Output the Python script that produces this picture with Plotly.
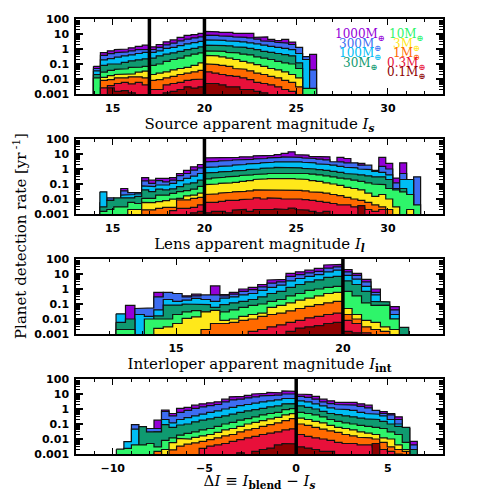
import plotly.graph_objects as go

# ---------------- data ----------------
mass_labels = ["1000M", "300M", "100M", "30M", "10M", "3M", "1M", "0.3M", "0.1M"]
mass_colors = ["#9400d8", "#3d6df2", "#00bdf5", "#0f9a70", "#2ef56a",
               "#ffe81a", "#ff6a00", "#e8103a", "#8e0000"]

# Panel 1: source apparent magnitude I_s (bins start / width)
src_bin_start, src_bin_width = 13.95, 0.38
src_m1000 = [0.07, 0.58, 0.75, 0.9, 1.0, 1.2, 1.5, 1.8, 1.4, 2.0, 3.0, 4.0, 6.0, 8.0, 9.0, 11, 15, 14, 13, 13, 11, 11, 11, 6.0, 6.5, 4.4, 3.6, 4.4, 2.9, 0, 0, 0.44]
src_m300 = [0.05, 0.38, 0.49, 0.58, 0.65, 0.75, 0.9, 1.0, 0.95, 1.3, 1.9, 2.5, 3.5, 4.5, 5.5, 6.5, 8.5, 8.0, 7.5, 7.0, 6.5, 6.0, 5.5, 4.5, 3.5, 3.2, 2.8, 2.5, 2.0, 1.3, 0.31, 0.04]
src_m100 = [0.035, 0.19, 0.23, 0.29, 0.35, 0.4, 0.5, 0.6, 0.6, 0.75, 1.1, 1.3, 1.7, 2.2, 2.7, 3.2, 4.0, 4.0, 3.8, 3.5, 3.2, 3.0, 2.6, 2.2, 1.8, 1.5, 1.3, 1.1, 0.9, 0.5, 0.2, 0]
src_m30 = [0.02, 0.08, 0.1, 0.1, 0.13, 0.16, 0.19, 0.22, 0.25, 0.35, 0.45, 0.55, 0.7, 0.9, 1.1, 1.4, 1.8, 1.8, 1.7, 1.6, 1.4, 1.3, 1.1, 0.9, 0.7, 0.6, 0.5, 0.42, 0.35, 0.12, 0, 0]
src_m10 = [0.012, 0.029, 0.038, 0.044, 0.048, 0.06, 0.062, 0.07, 0.08, 0.1, 0.15, 0.2, 0.25, 0.35, 0.45, 0.55, 0.75, 0.75, 0.7, 0.6, 0.55, 0.45, 0.4, 0.3, 0.25, 0.2, 0.15, 0.12, 0.1, 0.05, 0.0024, 0.0024]
src_m3 = [0, 0.013, 0.017, 0.02, 0.022, 0.022, 0.029, 0.034, 0.02, 0.025, 0.03, 0.04, 0.05, 0.06, 0.08, 0.12, 0.38, 0.35, 0.3, 0.25, 0.2, 0.15, 0.12, 0.09, 0.07, 0.05, 0.04, 0.03, 0.02, 0.012, 0, 0]
src_m1 = [0, 0.008, 0.009, 0.012, 0.012, 0.014, 0.014, 0.012, 0.008, 0.009, 0.012, 0.015, 0.02, 0.025, 0.03, 0.038, 0.1, 0.09, 0.08, 0.07, 0.05, 0.045, 0.035, 0.025, 0.02, 0.015, 0.012, 0.008, 0.006, 0.003, 0, 0]
src_m03 = [0, 0.0026, 0.0036, 0.005, 0.006, 0.0047, 0.006, 0.004, 0.002, 0.002, 0.004, 0.005, 0.006, 0.008, 0.009, 0.01, 0.03, 0.025, 0.02, 0.017, 0.015, 0.012, 0.009, 0.006, 0.005, 0.004, 0.003, 0.002, 0.0015, 0, 0, 0]
src_m01 = [0, 0, 0.0026, 0.0015, 0.0017, 0.0012, 0, 0, 0, 0, 0.0012, 0.0015, 0.002, 0.003, 0.0025, 0.003, 0.005, 0.005, 0.004, 0.003, 0.003, 0.002, 0.002, 0.0015, 0.0012, 0, 0, 0, 0, 0, 0, 0]

# Panel 2: lens apparent magnitude I_l
lens_bin_start, lens_bin_width = 14.3, 0.38
lens_m1000 = [0, 0, 0, 0.05, 0, 0, 0.27, 0.18, 0.24, 0.24, 0.27, 0.5, 0.8, 1.4, 2.0, 5.5, 5.5, 5.5, 6.0, 6.0, 6.5, 6.5, 7.5, 7.5, 8.0, 9.0, 11, 14, 9.0, 8.5, 7.0, 6.5, 6.5, 0, 6.0, 5.0, 0, 2.4, 0, 0, 6.0, 2.4, 0.25, 2.6, 0, 0]
lens_m300 = [0.006, 0.012, 0, 0.035, 0.027, 0.028, 0.16, 0.11, 0.17, 0.14, 0.18, 0.36, 0.5, 0.85, 1.2, 3.0, 3.2, 3.5, 3.7, 4.0, 4.0, 4.4, 4.7, 5.0, 5.5, 6.0, 6.5, 6.5, 6.0, 5.5, 5.0, 4.5, 4.0, 3.1, 3.0, 2.6, 2.6, 1.8, 1.8, 0.8, 1.5, 1.0, 0.12, 0.5, 0, 0.3]
lens_m100 = [0.03, 0.008, 0, 0.018, 0.02, 0.022, 0.074, 0.067, 0.086, 0.086, 0.11, 0.17, 0.24, 0.34, 0.5, 1.3, 1.4, 1.5, 1.6, 1.8, 2.0, 2.2, 2.4, 2.6, 2.8, 3.0, 3.2, 3.2, 3.0, 2.8, 2.6, 2.2, 2.0, 1.8, 1.5, 1.3, 1.2, 1.0, 0.9, 0.7, 0.6, 0.4, 0.05, 0.2, 0.2, 0]
lens_m30 = [0.003, 0.008, 0.012, 0.011, 0.012, 0.015, 0.04, 0.031, 0.045, 0.04, 0.047, 0.067, 0.1, 0.12, 0.18, 0.55, 0.6, 0.65, 0.7, 0.75, 0.8, 0.9, 1.0, 1.1, 1.2, 1.3, 1.3, 1.3, 1.2, 1.1, 1.0, 0.9, 0.8, 0.7, 0.6, 0.5, 0.45, 0.4, 0.35, 0.3, 0.3, 0.2, 0.03, 0.05, 0, 0]
lens_m10 = [0.0015, 0.002, 0.003, 0.003, 0.006, 0.005, 0.011, 0.011, 0.018, 0.018, 0.024, 0.031, 0.036, 0.045, 0.07, 0.22, 0.25, 0.28, 0.3, 0.33, 0.37, 0.4, 0.43, 0.47, 0.5, 0.55, 0.55, 0.55, 0.52, 0.5, 0.45, 0.4, 0.35, 0.3, 0.25, 0.22, 0.18, 0.15, 0.12, 0.1, 0.09, 0.05, 0.04, 0.03, 0.02, 0.004]
lens_m3 = [0, 0, 0, 0, 0.002, 0.002, 0.006, 0.0058, 0.0067, 0.0078, 0.0097, 0.011, 0.016, 0.018, 0.025, 0.09, 0.1, 0.11, 0.12, 0.13, 0.15, 0.17, 0.2, 0.22, 0.23, 0.25, 0.25, 0.23, 0.22, 0.2, 0.17, 0.15, 0.12, 0.1, 0.08, 0.06, 0.05, 0.04, 0.025, 0.015, 0.02, 0.01, 0.003, 0, 0.002, 0]
lens_m1 = [0, 0, 0, 0, 0, 0, 0.0019, 0.0019, 0.0024, 0.0028, 0.0028, 0.0087, 0.0087, 0.011, 0.013, 0.02, 0.022, 0.025, 0.028, 0.03, 0.032, 0.035, 0.04, 0.04, 0.042, 0.04, 0.04, 0.04, 0.038, 0.035, 0.03, 0.028, 0.025, 0.02, 0.017, 0.013, 0.01, 0.008, 0.006, 0.004, 0.003, 0.002, 0, 0, 0, 0]
lens_m03 = [0, 0, 0, 0, 0, 0, 0, 0, 0, 0, 0.0017, 0.0024, 0.0024, 0.0028, 0.004, 0.006, 0.006, 0.007, 0.008, 0.008, 0.009, 0.01, 0.012, 0.01, 0.012, 0.011, 0.01, 0.011, 0.01, 0.009, 0.008, 0.007, 0.006, 0.005, 0.004, 0.004, 0.003, 0.0025, 0.002, 0.0015, 0.002, 0, 0, 0, 0, 0]
lens_m01 = [0, 0, 0, 0, 0, 0, 0, 0, 0, 0, 0, 0, 0, 0.0012, 0.0015, 0.0012, 0.0015, 0.0015, 0.0012, 0.0018, 0.002, 0.0015, 0.002, 0.0018, 0.002, 0.0022, 0.002, 0.0025, 0.002, 0.0018, 0.0015, 0.0012, 0.0015, 0, 0, 0, 0, 0.0036, 0, 0, 0, 0, 0, 0, 0, 0]

# Panel 3: interloper apparent magnitude I_int
int_bin_start, int_bin_width = 13.2, 0.283
int_m1000 = [0, 0.08, 0, 0, 0.6, 0, 0, 0.35, 0.45, 0, 1.6, 0.42, 0.6, 1.0, 1.3, 2.0, 4.0, 4.4, 11, 14, 18, 24, 40, 44, 20, 11, 4.4, 1.0, 0, 0.067, 0]
int_m300 = [0, 0, 0.05, 0.055, 0.3, 0.6, 0.5, 0.3, 0.35, 0.4, 0.4, 0.35, 0.45, 0.7, 0.9, 1.4, 2.5, 3.0, 7, 9, 12, 15, 25, 30, 14, 8, 3.0, 0.6, 0, 0.04, 0]
int_m100 = [0.022, 0, 0.02, 0.015, 0.04, 0.2, 0.15, 0.18, 0.24, 0.2, 0.15, 0.25, 0.3, 0.4, 0.5, 0.8, 1.3, 1.8, 3.5, 5, 7, 9, 14, 18, 8, 4.5, 1.5, 0.4, 0, 0.02, 0]
int_m30 = [0.006, 0.01, 0, 0, 0.016, 0.085, 0.085, 0.1, 0.1, 0.09, 0.06, 0.09, 0.12, 0.15, 0.2, 0.3, 0.5, 0.7, 1.3, 2, 3, 4, 6, 7, 3.5, 2, 0.7, 0.15, 0.14, 0.01, 0.0028]
int_m10 = [0.002, 0.002, 0, 0.01, 0.01, 0.01, 0.02, 0.03, 0.036, 0.03, 0.02, 0.03, 0.04, 0.06, 0.08, 0.1, 0.15, 0.2, 0.35, 0.5, 0.8, 1.0, 1.3, 1.5, 0.7, 0.35, 0.12, 0.08, 0.085, 0.01, 0]
int_m3 = [0, 0, 0, 0, 0.0024, 0.003, 0.005, 0.011, 0.014, 0.03, 0.038, 0.008, 0.01, 0.015, 0.02, 0.025, 0.06, 0.08, 0.12, 0.18, 0.25, 0.35, 0.5, 0.6, 0.05, 0.02, 0.008, 0.006, 0.003, 0.002, 0]
int_m1 = [0, 0, 0, 0, 0, 0, 0, 0, 0, 0.002, 0.005, 0.005, 0.006, 0.008, 0.01, 0.015, 0.02, 0.025, 0.035, 0.05, 0.07, 0.09, 0.12, 0.15, 0.02, 0.01, 0.003, 0.002, 0.0015, 0, 0]
int_m03 = [0, 0, 0, 0, 0, 0, 0, 0, 0, 0, 0, 0, 0, 0, 0.0015, 0.002, 0.003, 0.004, 0.006, 0.008, 0.012, 0.015, 0.02, 0.025, 0.008, 0.005, 0.0012, 0, 0, 0, 0]
int_m01 = [0, 0, 0, 0, 0, 0, 0, 0, 0, 0, 0, 0, 0, 0, 0, 0, 0, 0, 0.0015, 0.0025, 0.003, 0.0036, 0.005, 0.006, 0.0015, 0.0012, 0, 0, 0, 0, 0]

# Panel 4: Delta I = I_blend - I_s
dI_bin_start, dI_bin_width = -9.8, 0.41
dI_m1000 = [0, 0, 0, 0, 0, 0.18, 0.86, 0.5, 1.1, 1.3, 1.8, 2.2, 2.6, 3.0, 4.5, 6.5, 7, 8, 10, 11, 13, 12, 16, 15, 10, 9, 7, 4.5, 3.5, 2.8, 2.6, 2.8, 2.2, 1.8, 0, 0.67, 0.5, 0.3, 0, 0.007]
dI_m300 = [0, 0, 0.09, 0, 0.05, 0.05, 0.7, 0.35, 0.6, 0.8, 1.1, 1.4, 1.7, 2.0, 3.0, 4.0, 4.5, 5.5, 6.5, 7.5, 8, 8.5, 10, 10, 7, 6, 4.5, 3.0, 2.3, 2.0, 1.8, 1.8, 1.5, 1.2, 0.8, 0.5, 0.4, 0.2, 0, 0.004]
dI_m100 = [0, 0.0067, 0.045, 0, 0.02, 0.03, 0.2, 0.12, 0.2, 0.27, 0.35, 0.45, 0.6, 0.75, 1.0, 1.3, 1.7, 2.0, 2.5, 3.0, 3.5, 4.0, 5.0, 5.0, 3.5, 3.0, 2.2, 1.6, 1.2, 1.0, 0.9, 0.8, 0.6, 0.5, 0.45, 0.35, 0.2, 0.1, 0.05, 0]
dI_m30 = [0, 0, 0, 0.067, 0.03, 0.03, 0.09, 0.06, 0.086, 0.1, 0.14, 0.18, 0.22, 0.28, 0.35, 0.45, 0.6, 0.75, 0.9, 1.1, 1.4, 1.6, 2.2, 2.3, 1.6, 1.3, 1.0, 0.7, 0.5, 0.42, 0.35, 0.3, 0.25, 0.22, 0.2, 0.15, 0.1, 0.07, 0.06, 0.002]
dI_m10 = [0.0021, 0.0024, 0.004, 0.004, 0.005, 0.003, 0.008, 0.012, 0.018, 0.024, 0.03, 0.04, 0.05, 0.07, 0.1, 0.13, 0.18, 0.23, 0.3, 0.4, 0.5, 0.6, 0.9, 1.05, 0.6, 0.5, 0.4, 0.3, 0.2, 0.15, 0.12, 0.1, 0.08, 0.07, 0.06, 0.05, 0.03, 0.02, 0.006, 0]
dI_m3 = [0, 0, 0, 0, 0, 0.001, 0.002, 0.0058, 0.011, 0.01, 0.013, 0.016, 0.02, 0.028, 0.04, 0.05, 0.07, 0.1, 0.13, 0.17, 0.22, 0.28, 0.4, 0.49, 0.25, 0.2, 0.15, 0.12, 0.08, 0.06, 0.05, 0.04, 0.03, 0.025, 0.02, 0.012, 0.01, 0.004, 0.002, 0]
dI_m1 = [0, 0, 0, 0, 0, 0.0015, 0, 0.0019, 0.0034, 0.0045, 0.0055, 0.007, 0.009, 0.012, 0.016, 0.02, 0.03, 0.04, 0.05, 0.07, 0.09, 0.12, 0.17, 0.23, 0.1, 0.08, 0.06, 0.045, 0.035, 0.028, 0.02, 0.016, 0.013, 0.012, 0.01, 0.006, 0.003, 0.002, 0.0015, 0]
dI_m03 = [0, 0, 0, 0, 0, 0, 0, 0, 0, 0, 0, 0.0024, 0.0034, 0.004, 0.005, 0.007, 0.009, 0.012, 0.015, 0.02, 0.025, 0.03, 0.04, 0.048, 0.02, 0.015, 0.012, 0.01, 0.008, 0.006, 0.005, 0.005, 0.004, 0.004, 0.003, 0.002, 0.0015, 0.001, 0, 0]
dI_m01 = [0, 0, 0, 0, 0, 0, 0, 0, 0, 0, 0, 0, 0, 0, 0, 0, 0.0012, 0, 0.0015, 0.002, 0.0025, 0.004, 0.005, 0.0047, 0.003, 0.0025, 0.002, 0.0015, 0.0015, 0, 0, 0, 0, 0, 0.005, 0, 0, 0, 0, 0]

# reference magnitudes marked with thick vertical lines
src_marks = [17, 20]
lens_marks = [20]
int_marks = [20]
dI_marks = [0]

y_tick_vals = [0.001, 0.01, 0.1, 1, 10, 100]
y_tick_text = ["0.001", "0.01", "0.1", "1", "10", "100"]

# ---------------- figure ----------------
panels = [
    dict(start=src_bin_start, width=src_bin_width,
         series=[src_m1000, src_m300, src_m100, src_m30, src_m10, src_m3, src_m1, src_m03, src_m01],
         xrange=[13, 33], marks=src_marks,
         title="Source apparent magnitude <i>I</i><sub><i><b>s</b></i></sub>"),
    dict(start=lens_bin_start, width=lens_bin_width,
         series=[lens_m1000, lens_m300, lens_m100, lens_m30, lens_m10, lens_m3, lens_m1, lens_m03, lens_m01],
         xrange=[13, 33], marks=lens_marks,
         title="Lens apparent magnitude <i>I</i><sub><i><b>l</b></i></sub>"),
    dict(start=int_bin_start, width=int_bin_width,
         series=[int_m1000, int_m300, int_m100, int_m30, int_m10, int_m3, int_m1, int_m03, int_m01],
         xrange=[12, 23], marks=int_marks,
         title="Interloper apparent magnitude <i>I</i><sub><b>int</b></sub>"),
    dict(start=dI_bin_start, width=dI_bin_width,
         series=[dI_m1000, dI_m300, dI_m100, dI_m30, dI_m10, dI_m3, dI_m1, dI_m03, dI_m01],
         xrange=[-12, 8], marks=dI_marks,
         title="Δ<i>I</i> ≡ <i>I</i><sub><b>blend</b></sub> − <i>I</i><sub><i><b>s</b></i></sub>"),
]

FLOOR = 1e-6


def step_polygon(start, width, vals):
    xs, ys = [], []
    for i, v in enumerate(vals):
        yv = v if v > 0 else FLOOR
        x0 = start + i * width
        xs += [x0, x0 + width]
        ys += [yv, yv]
    xs += [xs[-1], xs[0], xs[0]]
    ys += [FLOOR, FLOOR, ys[0]]
    return xs, ys


# figure geometry (pixels)
W, H = 491, 491
ML, MR, MT, MB = 76, 48, 19, 37
plot_h = H - MT - MB
panel_h = 75
panel_tops = [19, 139, 259, 379]

fig = go.Figure()
layout = dict(width=W, height=H, margin=dict(l=ML, r=MR, t=MT, b=MB),
              paper_bgcolor="white", plot_bgcolor="white", showlegend=False)

serif = "DejaVu Serif"
for p, pan in enumerate(panels):
    sfx = "" if p == 0 else str(p + 1)
    xname, yname = "x" + sfx, "y" + sfx
    for k, vals in enumerate(pan["series"]):
        xs, ys = step_polygon(pan["start"], pan["width"], vals)
        fig.add_trace(go.Scatter(x=xs, y=ys, mode="lines", fill="toself",
                                 fillcolor=mass_colors[k],
                                 line=dict(color="#111111", width=1.2),
                                 xaxis=xname, yaxis=yname, hoverinfo="skip"))
    top = panel_tops[p]
    d0 = (H - MB - (top + panel_h)) / plot_h
    d1 = (H - MB - top) / plot_h
    layout["xaxis" + sfx] = dict(
        domain=[0, 1], anchor=yname, range=pan["xrange"],
        showline=True, linecolor="black", linewidth=1.5, mirror="allticks",
        ticks="inside", ticklen=6, tickwidth=1.2, tickcolor="black",
        tick0=0, dtick=5, showgrid=False, zeroline=False,
        minor=dict(dtick=1, ticks="inside", ticklen=3.5, tickwidth=1, tickcolor="black", showgrid=False),
        tickfont=dict(family="DejaVu Sans", size=11, color="black", weight="bold"),
        ticklabelstandoff=3, automargin=False,
        title=dict(text=pan["title"], font=dict(family=serif, size=15, color="black"), standoff=0),
    )
    layout["yaxis" + sfx] = dict(
        domain=[d0, d1], anchor=xname, type="log", range=[-3, 2],
        showline=True, linecolor="black", linewidth=1.5, mirror="allticks",
        ticks="inside", ticklen=7, tickwidth=1.5, tickcolor="black",
        tickmode="array", tickvals=y_tick_vals, ticktext=y_tick_text,
        showgrid=False, zeroline=False, automargin=False,
        minor=dict(tickmode="array",
                   tickvals=[m * 10.0 ** e for e in range(-3, 2) for m in range(2, 10)],
                   ticks="inside", ticklen=4, tickwidth=1, tickcolor="black", showgrid=False),
        tickfont=dict(family="DejaVu Sans", size=11, color="black", weight="bold"),
        ticklabelstandoff=3,
    )

fig.update_layout(**layout)

# thick vertical marker lines
shapes = []
for p, pan in enumerate(panels):
    sfx = "" if p == 0 else str(p + 1)
    for xm in pan["marks"]:
        shapes.append(dict(type="line", xref="x" + sfx, yref="y" + sfx + " domain",
                           x0=xm, x1=xm, y0=0, y1=1, line=dict(color="black", width=3.5)))
fig.update_layout(shapes=shapes)

annotations = []
# y axis title
annotations.append(dict(text="Planet detection rate [yr<sup> -1</sup>]", textangle=-90,
                        xref="paper", yref="paper", x=(20 - ML) / (W - ML - MR), y=(H - MB - 236) / plot_h,
                        showarrow=False, font=dict(family=serif, size=15, color="black"),
                        xanchor="center", yanchor="middle"))
# in-panel mass legend (two columns)
left_col = [0, 1, 2, 3]
right_col = [4, 5, 6, 7, 8]
row_px = [35, 44.5, 54, 63.5, 73]
for col, cx in ((left_col, 360), (right_col, 406)):
    for r, k in enumerate(col):
        annotations.append(dict(text=mass_labels[k] + "<sub>⊕</sub>",
                                xref="paper", yref="paper",
                                x=(cx - ML) / (W - ML - MR), y=(H - MB - row_px[r]) / plot_h,
                                showarrow=False, xanchor="center", yanchor="middle",
                                font=dict(family=serif, size=12, color=mass_colors[k])))
fig.update_layout(annotations=annotations)

fig.write_html("out.html", config={"displayModeBar": False},
               post_script="document.body.style.margin='0';")
